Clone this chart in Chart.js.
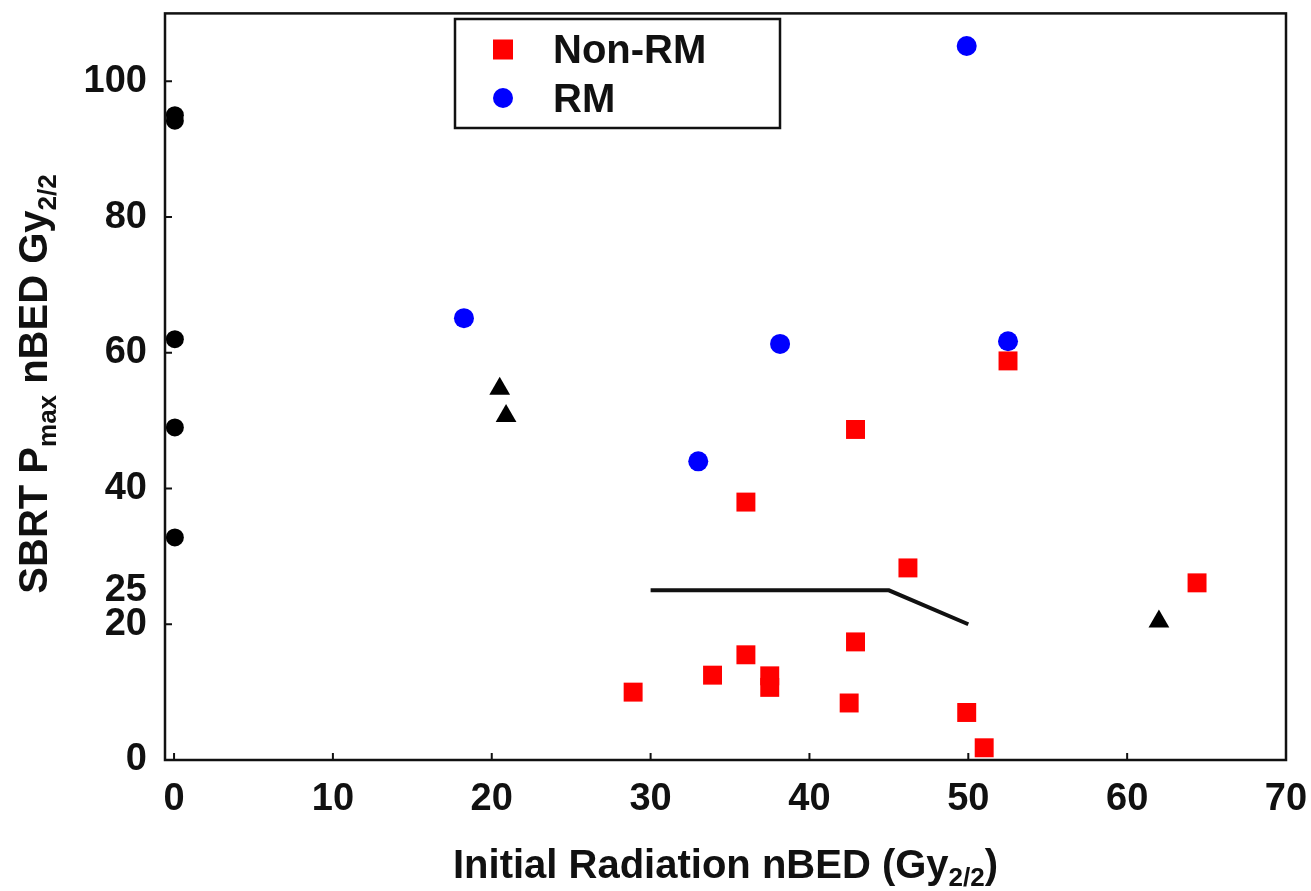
<!DOCTYPE html>
<html lang="en">
<head>
  <meta charset="UTF-8">
  <title>SBRT Pmax nBED vs Initial Radiation nBED</title>
  <script src="https://cdn.jsdelivr.net/npm/chart.js"></script>
  <style>
    html, body { margin: 0; padding: 0; background: #fff; }
    #wrap { width: 1311px; height: 891px; }
  </style>
</head>
<body>
<div id="wrap"><canvas id="chart" width="1311" height="891"></canvas></div>

<script>
  // --- data ---
  const nonRmX = [36.0, 42.9, 52.5, 46.2, 64.4, 42.9, 36.0, 33.9, 28.9, 37.5, 37.5, 42.5, 49.9, 51.0];
  const nonRmY = [38.0, 48.7, 58.8, 28.3, 26.1, 17.4, 15.5, 12.5, 10.0, 12.4, 10.7, 8.4, 7.0, 1.8];

  const rmX = [18.25, 38.15, 33.0, 49.9, 52.5];
  const rmY = [65.1, 61.3, 44.0, 105.2, 61.7];

  // no prior radiation (black dots on x = 0)
  const zeroX = [0.05, 0.05, 0.05, 0.05, 0.05];
  const zeroY = [95.0, 94.2, 62.0, 49.0, 32.8];

  // black triangles
  const triX = [20.5, 20.9, 62.0];
  const triY = [54.7, 50.7, 20.4];

  // constraint line
  const limitX = [30, 45, 50];
  const limitY = [25, 25, 20];

  const xTicks = [0, 10, 20, 30, 40, 50, 60, 70];
  const yTicks = [0, 20, 25, 40, 60, 80, 100];
  const yTickMarks = [20, 40, 60, 80, 100];

  const toPoints = (xs, ys) => xs.map((x, i) => ({ x: x, y: ys[i] }));

  const FONT = "'Liberation Sans', Arial, sans-serif";

  // draws the frame, the small inward ticks, the legend and the axis titles
  const decorations = {
    id: 'decorations',
    afterDraw(chart) {
      const ctx = chart.ctx;
      const a = chart.chartArea;
      const xs = chart.scales.x, ys = chart.scales.y;
      ctx.save();

      // frame
      ctx.strokeStyle = '#111';
      ctx.lineWidth = 2.5;
      ctx.strokeRect(a.left, a.top, a.right - a.left, a.bottom - a.top);

      // inward tick marks
      ctx.lineWidth = 2;
      ctx.beginPath();
      xTicks.slice(0, -1).forEach(v => {
        const px = xs.getPixelForValue(v);
        ctx.moveTo(px, a.bottom);
        ctx.lineTo(px, a.bottom - 7);
      });
      yTickMarks.forEach(v => {
        const py = ys.getPixelForValue(v);
        ctx.moveTo(a.left, py);
        ctx.lineTo(a.left + 7, py);
      });
      ctx.stroke();

      // legend box
      ctx.fillStyle = '#fff';
      ctx.fillRect(455, 19, 325, 109);
      ctx.lineWidth = 2.5;
      ctx.strokeRect(455, 19, 325, 109);
      ctx.fillStyle = '#ff0000';
      ctx.fillRect(493, 39.5, 20, 20);
      ctx.fillStyle = '#0000ff';
      ctx.beginPath();
      ctx.arc(503, 98, 10, 0, Math.PI * 2);
      ctx.fill();
      ctx.fillStyle = '#111';
      ctx.font = 'bold 40px ' + FONT;
      ctx.textAlign = 'left';
      ctx.textBaseline = 'alphabetic';
      ctx.fillText('Non-RM', 553, 63);
      ctx.fillText('RM', 553, 112);

      // axis titles with subscripts
      const drawRuns = (runs, x, y) => {
        const widths = runs.map(r => { ctx.font = r.font; return ctx.measureText(r.text).width; });
        const total = widths.reduce((s, w) => s + w, 0);
        let cx = x - total / 2;
        runs.forEach((r, i) => {
          ctx.font = r.font;
          ctx.fillText(r.text, cx, y + (r.dy || 0));
          cx += widths[i];
        });
      };
      const big = 'bold 40px ' + FONT;
      const small = 'bold 26px ' + FONT;

      drawRuns([
        { text: 'Initial Radiation nBED (Gy', font: big },
        { text: '2/2', font: small, dy: 8 },
        { text: ')', font: big }
      ], (a.left + a.right) / 2, 878);

      ctx.translate(47, 384);
      ctx.rotate(-Math.PI / 2);
      drawRuns([
        { text: 'SBRT P', font: big },
        { text: 'max', font: small, dy: 9 },
        { text: ' nBED Gy', font: big },
        { text: '2/2', font: small, dy: 9 }
      ], 0, 0);

      ctx.restore();
    }
  };

  new Chart(document.getElementById('chart'), {
    type: 'scatter',
    data: {
      datasets: [
        {
          label: 'Limit',
          data: toPoints(limitX, limitY),
          showLine: true,
          borderColor: '#111',
          borderWidth: 4,
          pointRadius: 0,
          fill: false
        },
        {
          label: 'Non-RM',
          data: toPoints(nonRmX, nonRmY),
          pointStyle: 'rect',
          pointRadius: 13.4,
          backgroundColor: '#ff0000',
          borderWidth: 0
        },
        {
          label: 'RM',
          data: toPoints(rmX, rmY),
          pointStyle: 'circle',
          pointRadius: 10,
          backgroundColor: '#0000ff',
          borderWidth: 0
        },
        {
          label: 'No prior',
          data: toPoints(zeroX, zeroY),
          pointStyle: 'circle',
          pointRadius: 9,
          backgroundColor: '#000',
          borderWidth: 0
        },
        {
          label: 'Triangles',
          data: toPoints(triX, triY),
          pointStyle: 'triangle',
          pointRadius: 12,
          backgroundColor: '#000',
          borderWidth: 0
        }
      ]
    },
    options: {
      responsive: false,
      devicePixelRatio: 1,
      animation: false,
      clip: false,
      layout: { padding: { top: 9, right: 25, left: 0, bottom: 0 } },
      plugins: {
        legend: { display: false },
        tooltip: { enabled: false }
      },
      scales: {
        x: {
          type: 'linear',
          min: -0.57,
          max: 70,
          afterBuildTicks: s => { s.ticks = xTicks.map(v => ({ value: v })); },
          afterFit: s => {
            s.height = 131;
            s.paddingLeft = 0; s.paddingRight = 0;
          },
          grid: { display: false, drawTicks: false },
          border: { display: false },
          ticks: {
            autoSkip: false,
            maxRotation: 0,
            padding: 17,
            color: '#111',
            font: { family: FONT, size: 38, weight: 'bold' }
          }
        },
        y: {
          type: 'linear',
          min: 0,
          max: 110,
          afterBuildTicks: s => { s.ticks = yTicks.map(v => ({ value: v })); },
          afterFit: s => {
            s.width = 165;
            s.paddingTop = 0; s.paddingBottom = 0;
          },
          grid: { display: false, drawTicks: false },
          border: { display: false },
          ticks: {
            autoSkip: false,
            padding: 18,
            color: '#111',
            font: { family: FONT, size: 38, weight: 'bold' }
          }
        }
      }
    },
    plugins: [decorations]
  });
</script>
</body>
</html>
